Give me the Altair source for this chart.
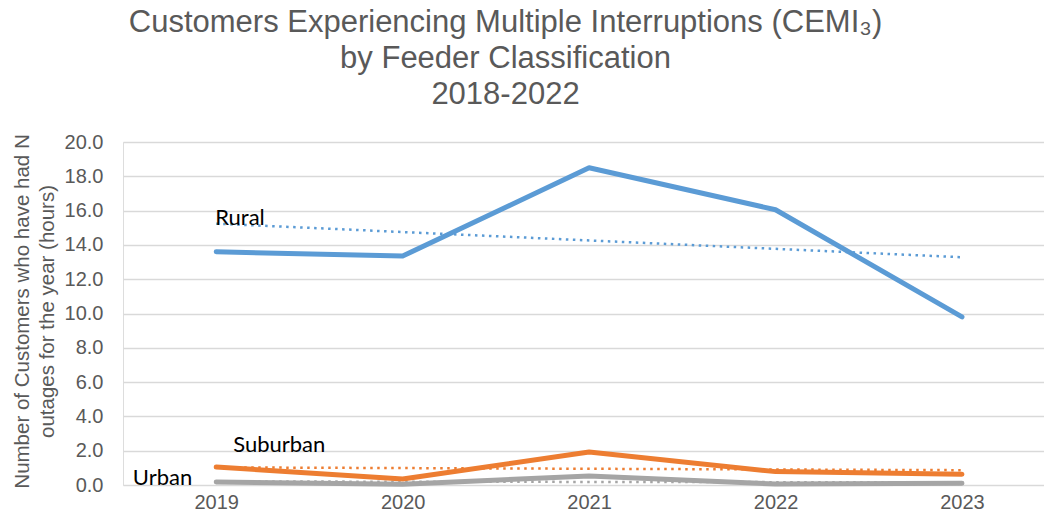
import altair as alt
import pandas as pd

years = [2019, 2020, 2021, 2022, 2023]
series = ["Rural", "Suburban", "Urban"]
rural = [13.6, 13.35, 18.5, 16.05, 9.8]
suburban = [1.05, 0.35, 1.92, 0.78, 0.63]
urban = [0.17, 0.05, 0.52, 0.06, 0.1]
colors = ["#5B9BD5", "#ED7D31", "#A5A5A5"]
y_ticks = [0, 2, 4, 6, 8, 10, 12, 14, 16, 18, 20]
title_lines = [
    "Customers Experiencing Multiple Interruptions (CEMI\u2083)",
    "by Feeder Classification",
    "2018-2022",
]
y_title = ["Number of Customers who have had N", "outages for the year (hours)"]

rows = []
for s, vals in zip(series, [rural, suburban, urban]):
    for yr, v in zip(years, vals):
        rows.append({"Year": yr, "Value": v, "Series": s})
df = pd.DataFrame(rows)

GRAY = "#595959"
FONT = "Liberation Sans"

x = alt.X(
    "Year:Q",
    scale=alt.Scale(domain=[2018.5, 2023.44], nice=False, zero=False),
    axis=alt.Axis(values=years, format="d", title=None, grid=False, domain=False,
                  ticks=False, labelFontSize=20, labelColor=GRAY, labelFont=FONT,
                  labelPadding=7),
)
y = alt.Y(
    "Value:Q",
    scale=alt.Scale(domain=[0, 20], nice=False),
    axis=alt.Axis(values=y_ticks, format=".1f", title=y_title, grid=True,
                  gridColor="#D9D9D9", gridWidth=1.3, domain=False, ticks=False,
                  labelFontSize=20, labelColor=GRAY, labelFont=FONT, labelPadding=20,
                  titleFontSize=20.5, titleFont=FONT, titleColor=GRAY,
                  titleFontWeight="normal", titleX=-111, titleY=169,
                  titleBaseline="top", titleLineHeight=25, titleAlign="center"),
)
color = alt.Color("Series:N", scale=alt.Scale(domain=series, range=colors), legend=None)

base = alt.Chart(df)

trend = base.transform_regression(
    "Year", "Value", groupby=["Series"], extent=[2019, 2023]
).mark_line(strokeWidth=2.5, strokeDash=[2.5, 4.5]).encode(x=x, y=y, color=color)

lines = base.mark_line(strokeWidth=5, strokeCap="round", strokeJoin="round").encode(
    x=x, y=y, color=color
)

first = base.transform_filter(alt.datum.Year == years[0])
label_style = dict(font="Lato", fontSize=22, color="black")
lab_rural = first.transform_filter(alt.datum.Series == "Rural").mark_text(
    align="left", baseline="middle", dx=-1, dy=-34, **label_style
).encode(x=x, y=y, text="Series:N")
lab_sub = first.transform_filter(alt.datum.Series == "Suburban").mark_text(
    align="left", baseline="middle", dx=17, dy=-22, **label_style
).encode(x=x, y=y, text="Series:N")
lab_urb = first.transform_filter(alt.datum.Series == "Urban").mark_text(
    align="right", baseline="middle", dx=-24, dy=-4, **label_style
).encode(x=x, y=y, text="Series:N")

chart = alt.layer(trend, lines, lab_rural, lab_sub, lab_urb).properties(
    width=921,
    height=343,
    autosize=alt.AutoSizeParams(type="none"),
    padding={"left": 123, "top": 142, "right": 0, "bottom": 35},
    title=alt.TitleParams(text=title_lines, fontSize=31, font=FONT, color=GRAY,
                          fontWeight="normal", anchor="middle", frame="group",
                          dx=-78, offset=21, lineHeight=36),
).configure_view(stroke=None).configure(background="white")

chart.save("out.html", embed_options={"renderer": "svg", "actions": False})
